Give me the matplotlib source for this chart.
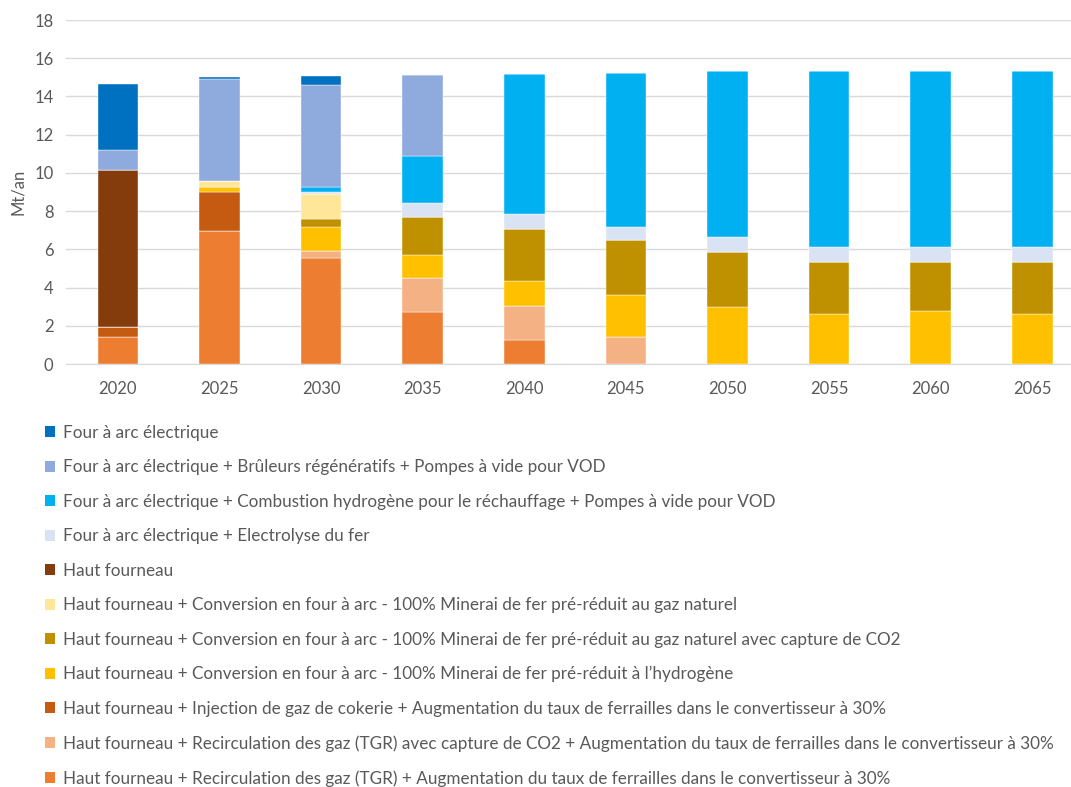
import numpy as np
import matplotlib.pyplot as plt
from matplotlib.patches import Patch

plt.rcParams['font.family'] = ['Lato', 'DejaVu Sans']

years = ['2020', '2025', '2030', '2035', '2040', '2045', '2050', '2055', '2060', '2065']

# Mt/an par filière, de bas en haut de la pile
tgr      = [1.43, 6.98, 5.56, 2.72, 1.26, 0, 0, 0, 0, 0]
tgr_ccs  = [0, 0, 0.37, 1.78, 1.76, 1.40, 0, 0, 0, 0]
coke     = [0.52, 2.02, 0, 0, 0, 0, 0, 0, 0, 0]
h2_dri   = [0, 0.26, 1.26, 1.19, 1.31, 2.21, 2.97, 2.63, 2.76, 2.60]
ng_ccs   = [0, 0, 0.38, 1.98, 2.73, 2.86, 2.89, 2.72, 2.59, 2.75]
ng_dri   = [0, 0.33, 1.31, 0, 0, 0, 0, 0, 0, 0]
hf       = [8.20, 0, 0, 0, 0, 0, 0, 0, 0, 0]
electro  = [0, 0, 0.12, 0.74, 0.77, 0.72, 0.77, 0.77, 0.77, 0.77]
h2_comb  = [0, 0, 0.26, 2.47, 7.36, 8.04, 8.70, 9.21, 9.21, 9.21]
bruleurs = [1.03, 5.30, 5.32, 4.24, 0, 0, 0, 0, 0, 0]
eaf      = [3.47, 0.14, 0.49, 0, 0, 0, 0, 0, 0, 0]

series = [
    (tgr, '#ED7D31', "Haut fourneau + Recirculation des gaz (TGR) + Augmentation du taux de ferrailles dans le convertisseur à 30%"),
    (tgr_ccs, '#F4B183', "Haut fourneau + Recirculation des gaz (TGR) avec capture de CO2 + Augmentation du taux de ferrailles dans le convertisseur à 30%"),
    (coke, '#C55A11', "Haut fourneau + Injection de gaz de cokerie + Augmentation du taux de ferrailles dans le convertisseur à 30%"),
    (h2_dri, '#FFC000', "Haut fourneau + Conversion en four à arc - 100% Minerai de fer pré-réduit à l’hydrogène"),
    (ng_ccs, '#BF9000', "Haut fourneau + Conversion en four à arc - 100% Minerai de fer pré-réduit au gaz naturel avec capture de CO2"),
    (ng_dri, '#FFE699', "Haut fourneau + Conversion en four à arc - 100% Minerai de fer pré-réduit au gaz naturel"),
    (hf, '#843C0C', "Haut fourneau"),
    (electro, '#DAE3F3', "Four à arc électrique + Electrolyse du fer"),
    (h2_comb, '#00B0F0', "Four à arc électrique + Combustion hydrogène pour le réchauffage + Pompes à vide pour VOD"),
    (bruleurs, '#8FAADC', "Four à arc électrique + Brûleurs régénératifs + Pompes à vide pour VOD"),
    (eaf, '#0070C0', "Four à arc électrique"),
]

fig = plt.figure(figsize=(10.71, 7.87), dpi=100)
ax = fig.add_axes([66 / 1071, 1 - 364 / 787, 1 - 66 / 1071, 344 / 787])

x = np.arange(len(years))
bottom = np.zeros(len(years))
for vals, color, label in series:
    v = np.array(vals, dtype=float)
    ax.bar(x, v, width=0.4, bottom=bottom, color=color, edgecolor='white', linewidth=0.3, zorder=3)
    bottom += v

ax.set_xlim(-0.51, 9.38)
ax.set_ylim(0, 18)
ax.set_yticks(range(0, 19, 2))
ax.set_xticks(x)
ax.set_xticklabels(years)
ax.yaxis.grid(True, color='#D9D9D9', linewidth=1, zorder=0)
for s in ['top', 'right', 'left']:
    ax.spines[s].set_visible(False)
ax.spines['bottom'].set_color('#D9D9D9')
ax.tick_params(axis='both', length=0, labelsize=12, colors='#595959', pad=9)
ax.tick_params(axis='x', pad=12)
ax.set_ylabel('Mt/an', fontsize=12, color='#595959', labelpad=6)

handles = [Patch(facecolor=c, edgecolor='none') for _, c, _ in series][::-1]
labels = [l for _, _, l in series][::-1]
fig.legend(handles, labels, loc='upper left', bbox_to_anchor=(38 / 1071, 1 - 418 / 787),
           frameon=False, fontsize=12.3, labelcolor='#595959', handlelength=0.62, handleheight=0.62,
           handletextpad=0.45, labelspacing=1.08, borderaxespad=0)

fig.savefig('out.png', dpi=100)
